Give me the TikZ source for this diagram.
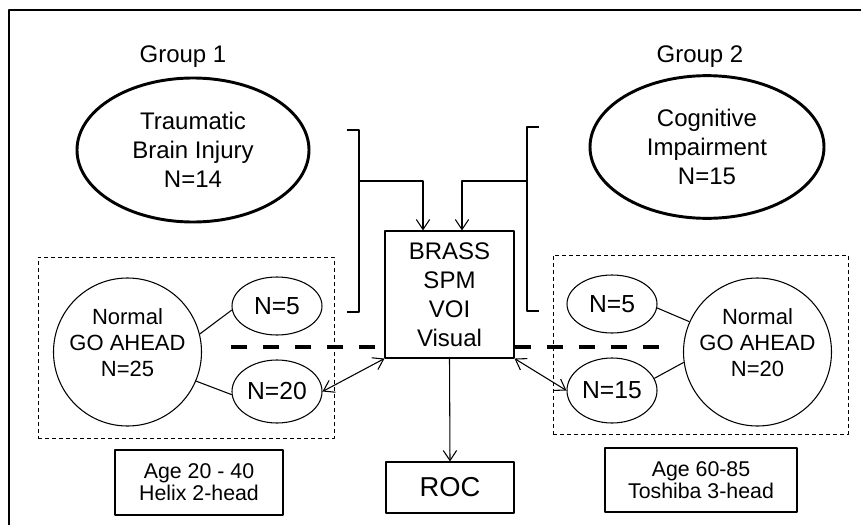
\documentclass[tikz,border=0pt]{standalone}
\usepackage{fontspec}
\setmainfont{Liberation Sans}
\usetikzlibrary{shapes.geometric,arrows.meta,positioning}
\begin{document}
\begin{tikzpicture}[x=0.75pt,y=-0.75pt,>={Straight Barb[length=7.5pt,width=10pt]},line join=round,
	grp/.style={draw,ellipse,line width=2.2pt,inner sep=0pt,align=center,text depth=-8pt,font=\fontsize{18}{21.75}\selectfont},
	nrm/.style={draw,circle,line width=0.8pt,inner sep=0pt,minimum size=111pt,align=center,text depth=14pt,font=\fontsize{16.5}{19.5}\selectfont},
	sub/.style={draw,ellipse,line width=0.8pt,inner sep=0pt,minimum width=67.5pt,font=\fontsize{18.5}{22}\selectfont},
	blk/.style={draw,rectangle,line width=0.8pt,inner sep=0pt,align=center},
	grpbox/.style={draw,line width=0.7pt,dash pattern=on 3pt off 2.25pt,inner sep=0pt},
	split/.style={line width=2.4pt,dash pattern=on 12pt off 12pt},
	wire/.style={line width=0.8pt}]
				\useasboundingbox (0,0) rectangle (861,525);
				\draw[line width=1.4pt] (9,525)--(9,10)--(861,10);
				\node[anchor=base,font=\fontsize{18}{21.75}\selectfont] (g1) at (183,62) {Group 1};
				\node[anchor=base,font=\fontsize{18}{21.75}\selectfont] (g2) at (700,62) {Group 2};
				\node[grp,minimum width=174pt,minimum height=108pt] (tbi) at (193,150) {Traumatic\\Brain Injury\\N=14};
				\node[grp,minimum width=175.5pt,minimum height=107pt] (cog) at (707,147) {Cognitive\\Impairment\\N=15};
				\node[blk,minimum width=96.75pt,minimum height=95.25pt,font=\fontsize{18}{21.75}\selectfont] (brass) at (449.5,294.5) {BRASS\\SPM\\VOI\\Visual};
				\node[blk,minimum width=96pt,minimum height=38.25pt,font=\fontsize{20.5}{24}\selectfont] (roc) at (450,487.5) {ROC};
				\node[grpbox,minimum width=222pt,minimum height=135.75pt] (box1) at (186,347.5) {};
				\node[grpbox,minimum width=221.25pt,minimum height=134.25pt] (box2) at (700.5,344.5) {};
				\node[nrm] (nrm1) at (127.5,352) {Normal\\GO AHEAD\\N=25};
				\node[nrm] (nrm2) at (757.5,352) {Normal\\GO AHEAD\\N=20};
				\node[sub,minimum height=43.5pt] (n5a) at (277,306) {N=5};
				\node[sub,minimum height=47.25pt] (n20a) at (277,391.5) {N=20};
				\node[sub,minimum height=43.5pt] (n5b) at (612,304) {N=5};
				\node[sub,minimum height=48.75pt] (n15b) at (612,390.5) {N=15};
				\node[blk,minimum width=126pt,minimum height=48.75pt,font=\fontsize{16}{16.5}\selectfont] (age1) at (199,482.5) {Age 20 - 40\\Helix 2-head};
				\node[blk,minimum width=144pt,minimum height=48pt,font=\fontsize{16}{16.5}\selectfont] (age2) at (701,480) {Age 60-85\\Toshiba 3-head};
				\draw[wire] (nrm1.14)--(n5a.185);
				\draw[wire] (nrm1.-23)--(n20a.184);
				\draw[wire] (n5b.-5)--(nrm2.156);
				\draw[wire] (n15b.16)--(nrm2.188);
				\coordinate (b1top) at (347,130);
				\coordinate (b1bot) at (347,312);
				\coordinate (b1) at (359,181);
				\coordinate (in1) at (423,181);
				\coordinate (b2top) at (539,127);
				\coordinate (b2bot) at (539,311);
				\coordinate (b2) at (527,181);
				\coordinate (in2) at (462,181);
				\draw[wire] (b1top)-|(b1)|-(b1bot);
				\draw[wire,->] (b1)--(in1)--(in1|-brass.north);
				\draw[wire] (b2top)-|(b2)|-(b2bot);
				\draw[wire,->] (b2)--(in2)--(in2|-brass.north);
				\coordinate (s1) at (231,347);
				\coordinate (s2) at (668,347);
				\draw[split] (s1)--(s1-|brass.west);
				\draw[split] (s2-|brass.east)--(s2);
				\draw[wire,<->] (n20a.east)--(brass.south west);
				\draw[wire,<->] (brass.south east)--(n15b.west);
				\draw[wire,->] (brass.south)--(roc.north);
\end{tikzpicture}
\end{document}
